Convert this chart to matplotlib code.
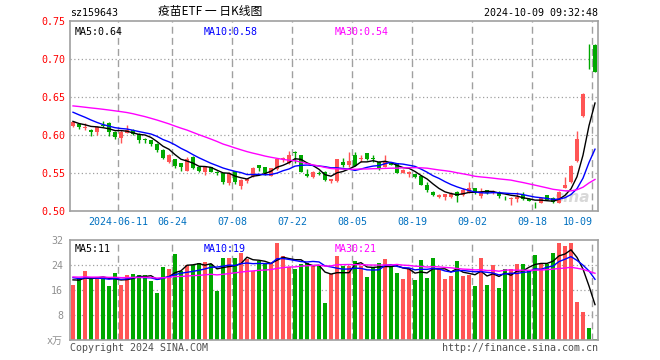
import numpy as np
import pandas as pd
import matplotlib
matplotlib.use("Agg")
import matplotlib.pyplot as plt
from matplotlib.transforms import blended_transform_factory

plt.rcParams["font.family"] = ["DejaVu Sans Mono", "Noto Sans CJK SC"]

W, H = 660, 360

# trading days shown (holidays removed)
holidays = ["2024-06-10", "2024-09-16", "2024-09-17", "2024-10-01", "2024-10-02",
            "2024-10-03", "2024-10-04", "2024-10-07"]
dates = pd.bdate_range("2024-05-29", "2024-10-09").drop(pd.to_datetime(holidays))

tick_dates = ["2024-06-11", "2024-06-24", "2024-07-08", "2024-07-22", "2024-08-05",
              "2024-08-19", "2024-09-02", "2024-09-18", "2024-10-09"]
tick_labels = ["2024-06-11", "06-24", "07-08", "07-22", "08-05", "08-19", "09-02", "09-18", "10-09"]

open_ = [0.612, 0.615, 0.609, 0.607, 0.604, 0.6125, 0.616, 0.604, 0.5965, 0.603,
         0.607, 0.601, 0.5945, 0.593, 0.588, 0.580, 0.564, 0.568, 0.5627, 0.5526,
         0.5715, 0.5575, 0.5518, 0.5575, 0.551, 0.5496, 0.5373, 0.5522, 0.533, 0.5395,
         0.546, 0.5605, 0.5575, 0.5465, 0.5553, 0.568, 0.5627, 0.578, 0.5737, 0.5487,
         0.5443, 0.550, 0.5518, 0.5392, 0.5392, 0.564, 0.5601, 0.5737, 0.569, 0.5759,
         0.5697, 0.565, 0.5583, 0.5649, 0.5627, 0.5504, 0.5482, 0.5487, 0.5465, 0.5342,
         0.5254, 0.518, 0.518, 0.519, 0.5254, 0.5211, 0.5254, 0.5298, 0.5197, 0.5276,
         0.5233, 0.5254, 0.5171, 0.516, 0.5163, 0.5211, 0.5163, 0.5083, 0.5101, 0.5211,
         0.5167, 0.511, 0.5307, 0.5386, 0.5658, 0.625, 0.7193, 0.7184]
close = [0.6175, 0.611, 0.610, 0.604, 0.611, 0.612, 0.604, 0.598, 0.604, 0.607,
         0.601, 0.594, 0.594, 0.588, 0.580, 0.570, 0.574, 0.559, 0.5575, 0.5684,
         0.5561, 0.5531, 0.5575, 0.5518, 0.550, 0.5386, 0.5505, 0.5386, 0.541, 0.542,
         0.557, 0.556, 0.5504, 0.5561, 0.5684, 0.5697, 0.5737, 0.576, 0.5518, 0.5456,
         0.5518, 0.549, 0.5408, 0.5417, 0.568, 0.5605, 0.5654, 0.5592, 0.570, 0.568,
         0.5684, 0.556, 0.5649, 0.5605, 0.5504, 0.554, 0.5509, 0.5443, 0.5342, 0.5276,
         0.5211, 0.5211, 0.522, 0.523, 0.5197, 0.5276, 0.5298, 0.5233, 0.5254, 0.5233,
         0.5263, 0.5202, 0.5167, 0.517, 0.518, 0.5154, 0.5132, 0.5079, 0.5167, 0.5145,
         0.5123, 0.5254, 0.5342, 0.5592, 0.5947, 0.6539, 0.7193, 0.6833]
high = [0.619, 0.616, 0.616, 0.608, 0.612, 0.619, 0.617, 0.605, 0.606, 0.613,
        0.608, 0.602, 0.596, 0.594, 0.589, 0.581, 0.575, 0.569, 0.563, 0.5706,
        0.572, 0.558, 0.558, 0.558, 0.552, 0.550, 0.551, 0.553, 0.542, 0.543,
        0.558, 0.561, 0.558, 0.557, 0.569, 0.5705, 0.5794, 0.579, 0.574, 0.5548,
        0.552, 0.552, 0.552, 0.542, 0.569, 0.5702, 0.5781, 0.5781, 0.5737, 0.576,
        0.5737, 0.5655, 0.5737, 0.565, 0.563, 0.555, 0.552, 0.549, 0.547, 0.5386,
        0.526, 0.522, 0.523, 0.5254, 0.526, 0.5298, 0.5386, 0.530, 0.5298, 0.528,
        0.527, 0.526, 0.5202, 0.518, 0.5246, 0.5254, 0.5165, 0.5114, 0.517, 0.5215,
        0.519, 0.526, 0.5447, 0.5605, 0.6057, 0.655, 0.7193, 0.7193]
low = [0.611, 0.608, 0.607, 0.599, 0.600, 0.610, 0.599, 0.595, 0.589, 0.602,
       0.600, 0.590, 0.589, 0.585, 0.577, 0.568, 0.563, 0.557, 0.552, 0.552,
       0.555, 0.551, 0.547, 0.551, 0.547, 0.5355, 0.534, 0.5355, 0.529, 0.537,
       0.545, 0.5526, 0.5474, 0.5455, 0.554, 0.565, 0.562, 0.5627, 0.551, 0.5443,
       0.543, 0.547, 0.540, 0.5375, 0.5386, 0.5583, 0.5583, 0.559, 0.5649, 0.567,
       0.5649, 0.554, 0.558, 0.560, 0.550, 0.550, 0.5443, 0.544, 0.534, 0.5254,
       0.520, 0.517, 0.5145, 0.5167, 0.5123, 0.520, 0.5233, 0.523, 0.5167, 0.523,
       0.523, 0.5175, 0.514, 0.508, 0.5114, 0.514, 0.513, 0.5044, 0.510, 0.514,
       0.5105, 0.510, 0.530, 0.5375, 0.564, 0.6237, 0.6864, 0.6825]
volume = [17.7, 19.5, 22.2, 19.5, 20.3, 19.4, 17.3, 21.4, 17.6, 20.9,
          21.2, 20.9, 20.9, 19.0, 15.1, 23.4, 22.7, 27.5, 22.0, 24.0,
          24.1, 24.6, 25.0, 24.4, 15.7, 26.2, 26.2, 26.2, 27.9, 26.0,
          22.1, 25.4, 24.5, 24.5, 31.1, 26.9, 23.3, 22.7, 24.4, 24.8,
          23.8, 23.8, 11.9, 21.2, 27.0, 23.8, 23.8, 25.3, 23.8, 20.1,
          23.1, 24.6, 25.9, 23.8, 21.4, 19.5, 23.1, 19.2, 25.6, 19.9,
          26.2, 22.7, 19.5, 20.5, 25.3, 20.5, 20.8, 17.3, 26.2, 17.6,
          24.0, 16.6, 22.7, 22.7, 24.3, 24.3, 22.4, 27.2, 24.3, 24.3,
          27.8, 31.0, 30.2, 31.0, 12.2, 9.1, 3.9, 0.4]

# earlier sessions (not drawn), estimated so the moving averages start where the chart shows them
hist_close = [0.635, 0.638, 0.632, 0.636, 0.640, 0.634, 0.630, 0.636,
              0.642, 0.648, 0.652, 0.650, 0.655, 0.648, 0.645, 0.650, 0.646, 0.640, 0.644, 0.648,
              0.645, 0.642, 0.640, 0.643, 0.640,
              0.625, 0.618, 0.615, 0.614]
hist_vol = [21.5, 19.0, 22.4, 20.1, 18.7, 20.9, 19.6, 21.8, 20.3, 19.2,
            22.0, 18.9, 20.6, 21.2, 19.8, 20.4, 18.5, 21.0, 20.7, 19.4,
            22.3, 20.0, 19.1, 21.6, 20.2, 19.9, 18.8, 20.5, 19.3]

RED, GREEN = "#ff5555", "#00a800"
GRID = "#a0a0a0"
MA_COLORS = {5: "black", 10: "#0000ff", 30: "#ff00ff"}

n = len(close)
x = np.arange(n)
o, c, hi, lo = map(np.array, (open_, close, high, low))
up = c > o
colors = np.where(up, RED, GREEN)

all_close = pd.Series(hist_close + close)
all_vol = pd.Series(hist_vol + volume)
ma_p = {k: all_close.rolling(k).mean().to_numpy()[-n:] for k in (5, 10, 30)}
ma_v = {k: all_vol.rolling(k).mean().to_numpy()[-n:] for k in (5, 10, 30)}

fig = plt.figure(figsize=(W / 100, H / 100), dpi=100)
fig.patch.set_facecolor("white")


def px_axes(left, top, right, bottom):
    return fig.add_axes([left / W, 1 - bottom / H, (right - left) / W, (bottom - top) / H])


ax = px_axes(70, 21, 598, 211)
axv = px_axes(70, 240, 598, 340)

grid_x = [dates.get_loc(pd.Timestamp(d)) - 0.42 for d in tick_dates]

for a in (ax, axv):
    a.set_xlim(-0.5, n - 0.5)
    for s in a.spines.values():
        s.set_color(GRID)
        s.set_linewidth(1.2)
    for gx in grid_x:
        a.axvline(gx, color=GRID, lw=1.0, ls=(0, (5, 3)), zorder=0)
    a.tick_params(length=0)

# price panel
ax.set_ylim(0.50, 0.75)
pticks = [0.50, 0.55, 0.60, 0.65, 0.70, 0.75]
ax.set_yticks(pticks)
ax.set_yticklabels([f"{t:.2f}" for t in pticks], color="red", fontsize=7.2)
ax.tick_params(axis="y", pad=3)
for t in pticks[1:-1]:
    ax.axhline(t, color=GRID, lw=0.9, ls=(0, (1, 2)), zorder=0)

body_lo = np.minimum(o, c)
body_h = np.maximum(np.abs(c - o), 0.0006)
ax.vlines(x, lo, hi, colors=colors, lw=1.0, zorder=2)
ax.bar(x, body_h, bottom=body_lo, width=0.8, color=colors, linewidth=0, zorder=3)
for k in (5, 10, 30):
    ax.plot(x, ma_p[k], color=MA_COLORS[k], lw=1.0, zorder=4)

ax.set_xticks(grid_x)
ax.set_xticklabels(tick_labels, color="#0070c0", fontsize=7.2)
ax.tick_params(axis="x", pad=4)
ax.get_xticklabels()[-1].set_ha("right")

ax.text(0.5, 0.5, "", transform=ax.transAxes)
ma_y = 0.97
ax.text(5 / 528, ma_y, "MA5:0.64", transform=ax.transAxes, va="top", fontsize=7.2, color="black")
ax.text(134 / 528, ma_y, "MA10:0.58", transform=ax.transAxes, va="top", fontsize=7.2, color="#0000ff")
ax.text(265 / 528, ma_y, "MA30:0.54", transform=ax.transAxes, va="top", fontsize=7.2, color="#ff00ff")
ax.text(0.985, 0.03, "sina", transform=ax.transAxes, ha="right", va="bottom", fontsize=11,
        fontstyle="italic", fontweight="bold", color="#d8d8d8", family="DejaVu Sans", zorder=1)

# volume panel
axv.set_ylim(0, 32)
vticks = [0, 8, 16, 24, 32]
axv.set_yticks(vticks)
axv.set_yticklabels(["x万", "8", "16", "24", "32"], color="#909090", fontsize=7.2)
axv.tick_params(axis="y", pad=5)
axv.set_xticks([])
for t in vticks[1:-1]:
    axv.axhline(t, color=GRID, lw=0.9, ls=(0, (1, 2)), zorder=0)
axv.bar(x, volume, width=0.8, color=colors, linewidth=0, zorder=2)
for k in (5, 10, 30):
    axv.plot(x, ma_v[k], color=MA_COLORS[k], lw=1.0, zorder=3)
axv.text(5 / 528, 0.96, "MA5:11", transform=axv.transAxes, va="top", fontsize=7.2, color="black")
axv.text(134 / 528, 0.96, "MA10:19", transform=axv.transAxes, va="top", fontsize=7.2, color="#0000ff")
axv.text(265 / 528, 0.96, "MA30:21", transform=axv.transAxes, va="top", fontsize=7.2, color="#ff00ff")

# header and footer
fig.text(70 / W, 1 - 13 / H, "sz159643", fontsize=7.2, va="center")
fig.text(210 / W, 1 - 12 / H, "疫苗ETF 一 日K线图", fontsize=8.5, va="center", ha="center",
         family=["Noto Sans CJK SC", "DejaVu Sans"])
fig.text(598 / W, 1 - 13 / H, "2024-10-09 09:32:48", fontsize=7.2, va="center", ha="right")
fig.text(70 / W, 1 - 348 / H, "Copyright 2024 SINA.COM", fontsize=7.2, va="center", color="#505050")
fig.text(598 / W, 1 - 348 / H, "http://finance.sina.com.cn", fontsize=7.2, va="center", ha="right",
         color="#505050")

fig.savefig("out.png", dpi=100)
